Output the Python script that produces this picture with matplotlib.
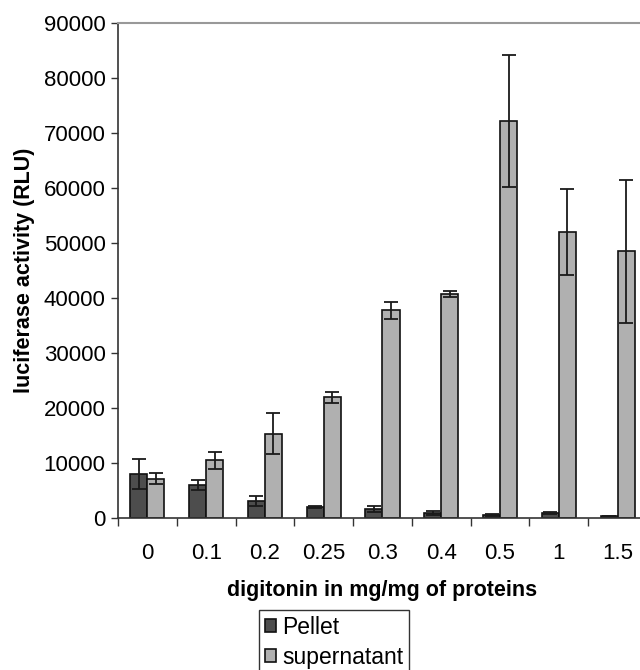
import numpy as np
import matplotlib
matplotlib.use('Agg')
import matplotlib.pyplot as plt

plt.rcParams['font.family'] = ['Liberation Sans', 'DejaVu Sans']

# valeurs
doses = ['0', '0.1', '0.2', '0.25', '0.3', '0.4', '0.5', '1', '1.5']
pellet = [7950, 5950, 3000, 2000, 1650, 900, 500, 850, 250]
pellet_err = [2700, 900, 900, 200, 550, 400, 200, 250, 100]
supernatant = [7050, 10450, 15300, 21900, 37700, 40700, 72200, 52000, 48500]
supernatant_err = [1000, 1500, 3750, 1000, 1500, 600, 12000, 7800, 13000]

fig = plt.figure(figsize=(6.4, 6.7), dpi=100)
ax = fig.add_axes([118 / 640, 1 - 517.7 / 670, 529 / 640, (517.7 - 23) / 670])

x = np.arange(len(doses))
w = 0.29
err_kw = dict(ecolor='#1a1a1a', elinewidth=1.3, capsize=5, capthick=1.3)
ax.bar(x - w / 2, pellet, w, yerr=pellet_err, color='#4d4d4d',
       edgecolor='#111111', linewidth=1.2, label='Pellet', error_kw=err_kw)
ax.bar(x + w / 2, supernatant, w, yerr=supernatant_err, color='#b0b0b0',
       edgecolor='#111111', linewidth=1.2, label='supernatant', error_kw=err_kw)

ax.set_xlim(-0.5, len(doses) - 0.5)
ax.set_ylim(0, 90000)
ax.set_yticks(np.arange(0, 90001, 10000))
ax.tick_params(axis='y', labelsize=16, length=5, width=1, color='#333333', pad=4)

# ticks entre les catégories, labels au centre
ax.set_xticks(np.arange(-0.5, len(doses), 1))
ax.set_xticklabels([])
ax.set_xticks(x, minor=True)
ax.set_xticklabels(doses, minor=True, fontsize=16)
ax.tick_params(axis='x', which='major', length=6, width=1, color='#333333')
ax.tick_params(axis='x', which='minor', length=0, pad=18)

for s in ['left', 'bottom']:
    ax.spines[s].set_color('#333333')
    ax.spines[s].set_linewidth(1.2)
ax.spines['top'].set_color('#999999')
ax.spines['top'].set_linewidth(1.5)
ax.spines['right'].set_visible(False)

ax.set_ylabel('luciferase activity (RLU)', fontsize=15.5, fontweight='bold', labelpad=6)
ax.set_xlabel('digitonin in mg/mg of proteins', fontsize=15.5, fontweight='bold', labelpad=12)

leg = fig.legend(loc='upper left', bbox_to_anchor=(259 / 640, 1 - 610 / 670),
                 fontsize=16.5, frameon=True, fancybox=False, edgecolor='black',
                 handlelength=0.5, handleheight=0.5, handletextpad=0.25,
                 borderpad=0.25, labelspacing=0.3, borderaxespad=0)
leg.get_frame().set_linewidth(1)

fig.savefig('out.png', dpi=100)
